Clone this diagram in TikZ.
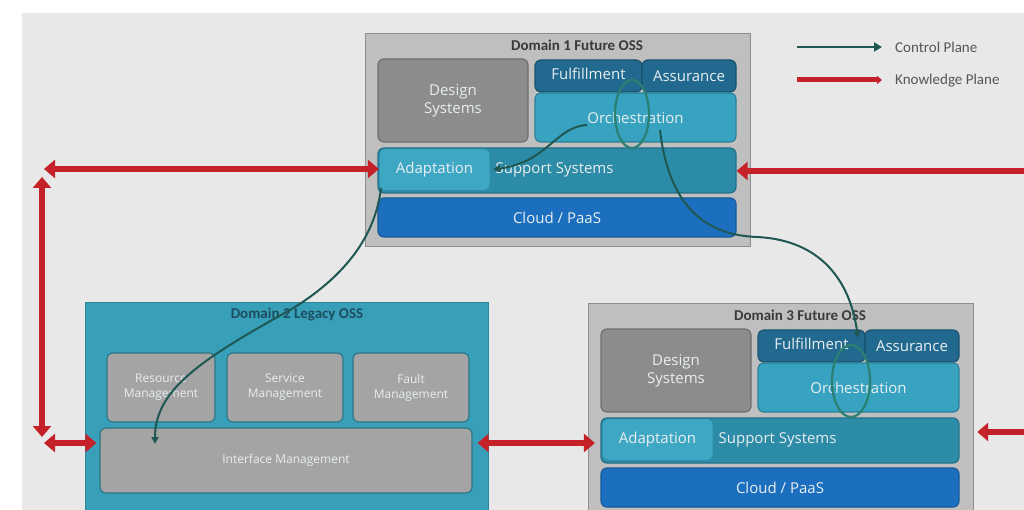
\documentclass[tikz,border=0pt]{standalone}
\usepackage{fontspec}
\setmainfont{Carlito}
\newfontfamily\boxfont{Open Sans}
\usetikzlibrary{arrows.meta}

\definecolor{bg}{HTML}{E8E8E8}
\definecolor{framefill}{HTML}{BFBFBF}
\definecolor{frameedge}{HTML}{8E8E8E}
\definecolor{designfill}{HTML}{8C8C8C}
\definecolor{designedge}{HTML}{6E6E6E}
\definecolor{fulfilfill}{HTML}{22698F}
\definecolor{fulfiledge}{HTML}{1A5270}
\definecolor{orchfill}{HTML}{37A3C0}
\definecolor{orchedge}{HTML}{2A8099}
\definecolor{supportfill}{HTML}{2C8BA6}
\definecolor{supportedge}{HTML}{22708A}
\definecolor{adaptfill}{HTML}{3EA8C4}
\definecolor{cloudfill}{HTML}{1C6FBE}
\definecolor{cloudedge}{HTML}{165A9C}
\definecolor{legacyfill}{HTML}{37A0B8}
\definecolor{legacyedge}{HTML}{2C879D}
\definecolor{legacytitle}{HTML}{1E4D60}
\definecolor{mgmtfill}{HTML}{A4A4A4}
\definecolor{mgmtedge}{HTML}{2E7585}
\definecolor{kpred}{HTML}{C42129}
\definecolor{cpteal}{HTML}{1F5753}
\definecolor{loopteal}{HTML}{2A8071}
\definecolor{boxtext}{HTML}{E8EEF0}
\definecolor{titletext}{HTML}{3A3A3A}
\definecolor{legendtext}{HTML}{555555}

\tikzset{
  frame/.style={draw=frameedge, fill=framefill, line width=1.2pt, inner sep=0pt, anchor=north west},
  box/.style={rounded corners=6pt, line width=1.2pt, inner sep=0pt, align=center,
    text=boxtext, font=\boxfont\fontsize{15}{18}\selectfont},
  designbox/.style={box, fill=designfill, draw=designedge},
  fulfilbox/.style={box, fill=fulfilfill, draw=fulfiledge},
  orchbox/.style={box, fill=orchfill, draw=orchedge},
  supportbox/.style={box, fill=supportfill, draw=supportedge},
  adaptbox/.style={box, fill=adaptfill},
  cloudbox/.style={box, fill=cloudfill, draw=cloudedge},
  mgmtbox/.style={box, fill=mgmtfill, draw=mgmtedge, font=\boxfont\fontsize{12}{15}\selectfont},
  title/.style={font=\bfseries\fontsize{15}{17}\selectfont, text=titletext, inner sep=0pt},
  legendlabel/.style={font=\fontsize{15}{17}\selectfont, text=legendtext, inner sep=0pt, anchor=west},
  kp/.style={draw=kpred, line width=6pt, >={Triangle[length=11pt,width=18pt]}},
  cp/.style={draw=cpteal, line width=2pt, ->, >={Triangle[length=7pt,width=7pt]}},
  cploop/.style={draw=loopteal, line width=2.2pt},
  % one "future" OSS domain; origin at the top-left corner of its frame
  futureoss/.pic={
    \node[frame, minimum width=385pt, minimum height=213pt] (-frame) at (0,0) {};
    \node[title] (-title) at (212,12) {Domain #1 Future OSS};
    \node[designbox, minimum width=150pt, minimum height=83pt] (-design) at (88,67.5) {Design\\Systems};
    \node[fulfilbox, minimum width=107pt, minimum height=32pt] (-fulfil) at (223.5,43) {};
    \node[box] (-fulfillabel) at (223.5,41) {Fulfillment};
    \node[fulfilbox, minimum width=94pt, minimum height=32pt] (-assure) at (324,43) {Assurance};
    \node[orchbox, minimum width=201pt, minimum height=49pt] (-orch) at (270.5,84.5) {Orchestration};
    \node[supportbox, minimum width=358pt, minimum height=45pt] (-support) at (192,137.5) {};
    \node[adaptbox, minimum width=110pt, minimum height=41pt] (-adapt) at (69.5,136.5) {Adaptation};
    \node[box, anchor=west] (-supportlabel) at (130,136.5) {Support Systems};
    \node[cloudbox, minimum width=358pt, minimum height=39pt] (-cloud) at (192,184.5) {Cloud / PaaS};
  }
}

\begin{document}
\begin{tikzpicture}[x=1pt,y=-1pt]
\useasboundingbox (0,0) rectangle (1024,510);
\clip (0,0) rectangle (1024,510);
\fill[white] (0,0) rectangle (1024,510);
\fill[bg] (22,13) rectangle (1024,510);

% domains
\pic (d1) at (365,33) {futureoss=1};
\pic (d3) at (588,303) {futureoss=3};

\node[draw=legacyedge, fill=legacyfill, line width=1.2pt, inner sep=0pt, anchor=north west,
      minimum width=403pt, minimum height=220pt] (d2-frame) at (85,302) {};
\node[title, text=legacytitle] (d2-title) at (297,315) {Domain 2 Legacy OSS};
\node[mgmtbox, minimum width=108pt, minimum height=69pt] (d2-resource) at (161,387.5) {Resource\\Management};
\node[mgmtbox, minimum width=116pt, minimum height=69pt] (d2-service) at (285,387.5) {Service\\Management};
\node[mgmtbox, minimum width=116pt, minimum height=69pt] (d2-fault) at (411,387.5) {Fault\\Management};
\node[mgmtbox, minimum width=372pt, minimum height=65pt] (d2-iface) at (286,460.5) {Interface Management};

% knowledge plane
\coordinate (kp-tl) at (44,169);
\coordinate (kp-vt) at (42,177);
\coordinate (kp-vb) at (42,437);
\coordinate (kp-bl) at (44,443);
\coordinate (kp-r1) at (1030,171);
\coordinate (kp-r2) at (1030,432);
\coordinate (kp-mid) at (530,443);
\draw[kp,<->] (kp-tl) -- (kp-tl -| d1-adapt.west);
\draw[kp,<->] (kp-vt) -- (kp-vb);
\draw[kp,<->] (kp-bl) -- ([xshift=-3pt]kp-bl -| d2-iface.west);
\draw[kp,->] (kp-r1) -- (kp-r1 -| d1-support.east);
\draw[kp,->] (kp-r2) -- ([xshift=3pt]kp-r2 -| d3-frame.east);
\draw[kp,<->] ([xshift=5pt]kp-mid -| d2-iface.east) -- ([xshift=-7pt]kp-mid -| d3-adapt.west);

% control plane
\draw[cploop] (632,114) ellipse [x radius=17, y radius=34];
\draw[cploop] (851,381) ellipse [x radius=19, y radius=36];
\coordinate (cp-s1) at (587,125);
\coordinate (cp-s2) at (660,130);
\coordinate (cp-s3) at (381,188);
\coordinate (cp-e2) at (858,338);
\coordinate (cp-e3) at (155,444);
\draw[cp] (cp-s1) .. controls (555,127) and (548,162) .. ([xshift=3pt]d1-adapt.east);
\draw[cp] (cp-s2) .. controls (668,200) and (700,235) .. (757,237)
  .. controls (820,240) and (850,280) .. (cp-e2);
\draw[cp] (cp-s3) .. controls (375,240) and (340,280) .. (290,310)
  .. controls (200,360) and (155,390) .. (cp-e3);

% legend
\coordinate (lg-c1) at (797,47);
\coordinate (lg-c2) at (882,47);
\coordinate (lg-k1) at (797,80);
\coordinate (lg-k2) at (882,80);
\draw[draw=cpteal, line width=2.5pt, -{Triangle[length=8pt,width=9pt]}] (lg-c1) -- (lg-c2);
\draw[draw=kpred, line width=5pt, -{Triangle[length=5pt,width=8pt]}] (lg-k1) -- (lg-k2);
\node[legendlabel] (lg-cp) at (895,47) {Control Plane};
\node[legendlabel] (lg-kp) at (895,81) {Knowledge Plane};
\end{tikzpicture}
\end{document}
